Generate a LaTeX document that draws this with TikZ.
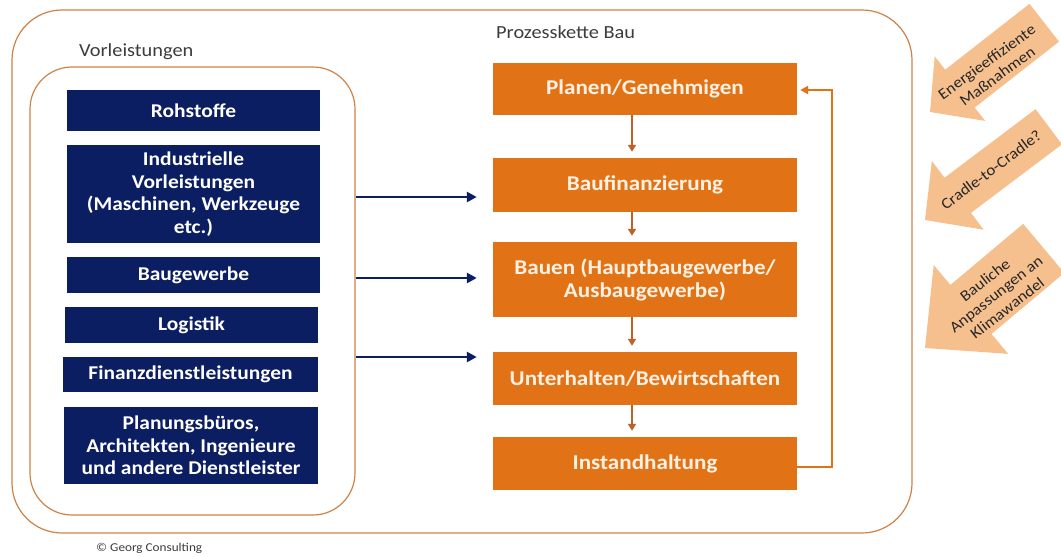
\documentclass[tikz,border=0pt]{standalone}
\usepackage{fontspec}
\setmainfont{Carlito}[FakeStretch=1.1]
\usetikzlibrary{arrows.meta}
\definecolor{navy}{RGB}{12,30,98}
\definecolor{orng}{RGB}{226,114,22}
\definecolor{peach}{RGB}{246,192,142}
\definecolor{framec}{RGB}{205,130,70}
\definecolor{arrbrown}{RGB}{190,98,40}
\definecolor{labelc}{RGB}{60,60,60}
\begin{document}
\begin{tikzpicture}[x=1pt,y=-1pt,
  bluebox/.style={fill=navy, text=white, font=\bfseries\fontsize{19.5}{22.7}\selectfont, align=center, inner sep=0pt, minimum height=#1},
  orbox/.style={fill=orng, text=white!90!orange, font=\bfseries\fontsize{21}{23}\selectfont, align=center, inner sep=0pt, minimum width=304pt, minimum height=#1},
  frameline/.style={draw=framec, line width=1.2pt, rounded corners=#1},
  navyconn/.style={draw=navy, line width=2.6pt, -{Triangle[length=10pt,width=10pt]}},
  downconn/.style={draw=arrbrown, line width=2pt, -{Triangle[length=7pt,width=8pt]}, shorten >=6pt},
  fbconn/.style={draw=orng, line width=2pt, -{Triangle[length=8pt,width=8pt]}, shorten >=3pt},
  arrowtext/.style={text=black!85, font=\fontsize{15.5}{18}\selectfont, align=center, inner sep=0pt},
  lbl/.style={text=labelc, font=\fontsize{18.5}{20}\selectfont, inner sep=0pt, anchor=west}
]
\useasboundingbox (0,0) rectangle (1061,557);
% frames
\draw[frameline=50pt] (12,10) rectangle (912,533);
\node[draw=framec, line width=1.2pt, rounded corners=42pt, inner sep=0pt, minimum width=325pt, minimum height=448pt] (vor) at (192.5,291) {};
% labels
\node[lbl] (lvor) at (79,52) {Vorleistungen};
\node[lbl] (lpk) at (496,32) {Prozesskette Bau};
\node[lbl, font=\fontsize{12}{14}\selectfont] (copy) at (96,548) {© Georg Consulting};
% blue boxes
\node[bluebox=41pt, minimum width=253pt] (roh) at (193.5,110.5) {Rohstoffe};
\node[bluebox=98pt, minimum width=253pt] (ind) at (193.5,194) {Industrielle\\Vorleistungen\\(Maschinen, Werkzeuge\\etc.)};
\node[bluebox=36pt, minimum width=253pt] (baug) at (193.5,275) {Baugewerbe};
\node[bluebox=36pt, minimum width=253pt] (logi) at (191.5,325) {Logistik};
\node[bluebox=35pt, minimum width=255pt] (fin) at (190.5,374.5) {Finanzdienstleistungen};
\node[bluebox=77pt, minimum width=254pt] (plb) at (191,445.5) {Planungsbüros,\\Architekten, Ingenieure\\und andere Dienstleister};
% orange boxes
\node[orbox=52pt] (planen) at (645,89) {Planen/Genehmigen};
\node[orbox=54pt] (baufin) at (645,185) {Baufinanzierung};
\node[orbox=75pt] (bauen) at (645,279.5) {Bauen (Hauptbaugewerbe/\\Ausbaugewerbe)};
\node[orbox=53pt] (unter) at (645,378.5) {Unterhalten/Bewirtschaften};
\node[orbox=53pt] (instand) at (645,463.5) {Instandhaltung};
% navy connectors
\draw[navyconn, shorten >=16pt] (vor.east |- 0,197) -- (baufin.west |- 0,197);
\draw[navyconn, shorten >=16pt] (vor.east |- 0,278) -- (bauen.west |- 0,278);
\draw[navyconn, shorten >=16pt] (vor.east |- 0,357) -- (unter.west |- 0,357);
% process arrows
\draw[downconn] (planen.south -| 632,0) -- (baufin.north -| 632,0);
\draw[downconn] (baufin.south -| 632,0) -- (bauen.north -| 632,0);
\draw[downconn] (bauen.south -| 632,0) -- (unter.north -| 632,0);
\draw[downconn] (unter.south -| 632,0) -- (instand.north -| 632,0);
% feedback
\coordinate (fb) at (832,90);
\draw[fbconn] (instand.east |- 0,467) -| (fb) -- (planen.east |- fb);
% block arrows
\begin{scope}[shift={(930,112)}, rotate=218]
\fill[peach] (0,0) -- (-38,41) -- (-38,24) -- (-145,24) -- (-145,-24) -- (-38,-24) -- (-38,-41) -- cycle;
\end{scope}
\begin{scope}[shift={(925,220)}, rotate=217]
\fill[peach] (0,0) -- (-41,43) -- (-41,22) -- (-155,22) -- (-155,-22) -- (-41,-22) -- (-41,-43) -- cycle;
\end{scope}
\begin{scope}[shift={(925,348)}, rotate=220]
\fill[peach] (0,0) -- (-60,58) -- (-60,32) -- (-155,32) -- (-155,-32) -- (-60,-32) -- (-60,-58) -- cycle;
\end{scope}
\node[arrowtext, rotate=36] (t1) at (992,69) {Energieeffiziente\\Maßnahmen};
\node[arrowtext, rotate=37] (t2) at (991,170) {Cradle-to-Cradle?};
\node[arrowtext, rotate=38] (t3) at (996,294) {Bauliche\\Anpassungen an\\Klimawandel};
\end{tikzpicture}
\end{document}
